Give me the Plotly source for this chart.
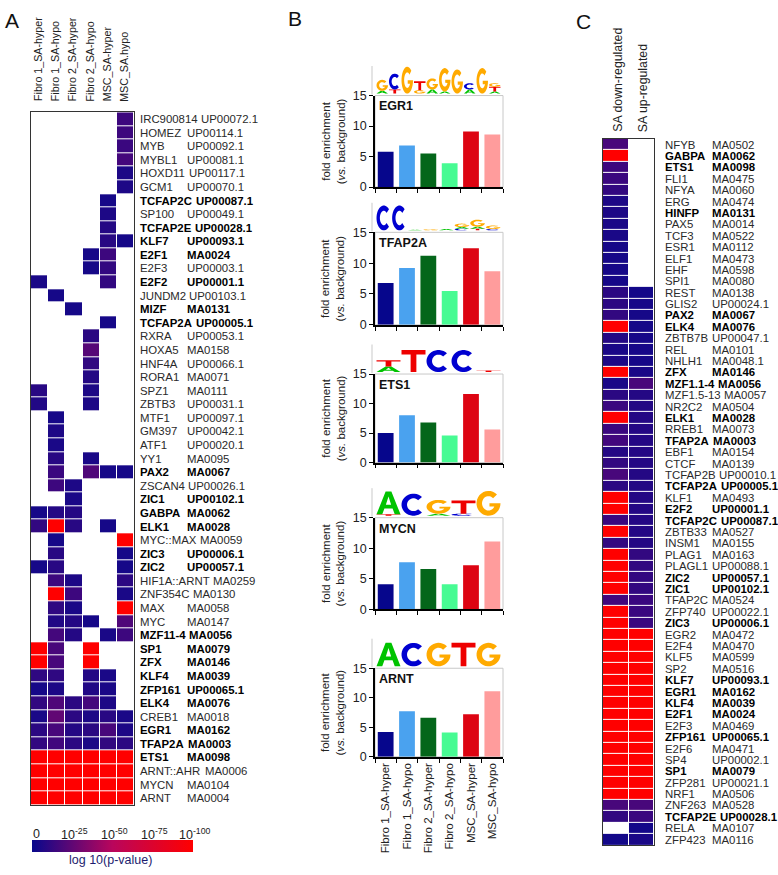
import numpy as np
import plotly.graph_objects as go

W, H = 778, 875
FONT = "Liberation Sans, Arial, sans-serif"


def fx(x):
    return x / W


def fy(y):
    return 1 - y / H


N = None

# ---------------- Panel A data ----------------
a_columns = ["Fibro 1_SA-hyper", "Fibro 1_SA-hypo", "Fibro 2_SA-hyper",
             "Fibro 2_SA-hypo", "MSC_SA-hyper", "MSC_SA.hypo"]
a_names = ["IRC900814", "HOMEZ", "MYB", "MYBL1", "HOXD11", "GCM1", "TCFAP2C", "SP100",
           "TCFAP2E", "KLF7", "E2F1", "E2F3", "E2F2", "JUNDM2", "MIZF", "TCFAP2A",
           "RXRA", "HOXA5", "HNF4A", "RORA1", "SPZ1", "ZBTB3", "MTF1", "GM397", "ATF1",
           "YY1", "PAX2", "ZSCAN4", "ZIC1", "GABPA", "ELK1", "MYC::MAX", "ZIC3", "ZIC2",
           "HIF1A::ARNT", "ZNF354C", "MAX", "MYC", "MZF11-4", "SP1", "ZFX", "KLF4",
           "ZFP161", "ELK4", "CREB1", "EGR1", "TFAP2A", "ETS1", "ARNT::AHR", "MYCN", "ARNT"]
a_ids = ["UP00072.1", "UP00114.1", "UP00092.1", "UP00081.1", "UP00117.1", "UP00070.1",
         "UP00087.1", "UP00049.1", "UP00028.1", "UP00093.1", "MA0024", "UP00003.1",
         "UP00001.1", "UP00103.1", "MA0131", "UP00005.1", "UP00053.1", "MA0158",
         "UP00066.1", "MA0071", "MA0111", "UP00031.1", "UP00097.1", "UP00042.1",
         "UP00020.1", "MA0095", "MA0067", "UP00026.1", "UP00102.1", "MA0062", "MA0028",
         "MA0059", "UP00006.1", "UP00057.1", "MA0259", "MA0130", "MA0058", "MA0147",
         "MA0056", "MA0079", "MA0146", "MA0039", "UP00065.1", "MA0076", "MA0018",
         "MA0162", "MA0003", "MA0098", "MA0006", "MA0104", "MA0004"]
a_bold = [0, 0, 0, 0, 0, 0, 1, 0, 1, 1, 1, 0, 1, 0, 1, 1, 0, 0, 0, 0, 0, 0, 0, 0, 0, 0,
          1, 0, 1, 1, 1, 0, 1, 1, 0, 0, 0, 0, 1, 1, 1, 1, 1, 1, 0, 1, 1, 1, 0, 0, 0]
# -log10(p) per column (None = not enriched)
a_fibro1_hyper = [N, N, N, N, N, N, N, N, N, N, N, N, 5, N, N, N, N, N, N, N, 9, 7, N, N, N,
                  N, N, N, N, 4, 12, N, N, 4, N, N, N, N, N, 100, 100, 11, 4, 12, 5, 10, 12,
                  100, 100, 100, 100]
a_fibro1_hypo = [N, N, N, N, N, N, N, N, N, N, N, N, N, 4, N, N, N, N, N, N, N, N, 4, 6, 5,
                 9, 14, 15, N, 8, 100, 4, 9, 9, 15, 100, 11, 7, 17, 18, 18, 11, 6, 20, 25,
                 18, 16, 100, 100, 100, 100]
a_fibro2_hyper = [N, N, N, N, N, N, N, N, N, N, N, N, N, N, 4, N, N, N, N, N, N, N, N, N, N,
                  N, N, 6, 5, 8, 9, N, N, N, 6, 15, 5, 8, 8, N, N, N, N, 10, 10, 8, 10,
                  100, 100, 100, 100]
a_fibro2_hypo = [N, N, N, N, N, N, N, N, N, N, 4, 4, N, N, N, N, 10, 22, 12, 8, 6, 6, N, N, N,
                 5, 20, N, N, N, N, N, N, N, N, N, N, 4, N, 100, 100, 8, 7, 17, 6, 10, 6,
                 100, 100, 100, 100]
a_msc_hyper = [N, N, N, N, N, N, 4, 6, 8, 9, 15, 12, 12, N, N, 4, N, N, N, N, N, N, N, N, N,
               N, 4, N, N, N, 4, N, N, N, N, N, N, N, 5, N, N, 5, 5, 6, 9, 18, 12,
               100, 100, 100, 100]
a_msc_hypo = [15, 15, 14, 17, 6, 6, N, N, N, 4, N, N, N, N, N, N, N, N, N, N, N, N, N, N, N,
              N, 4, N, N, N, N, 100, 4, 4, 10, 5, 100, 20, 15, N, N, N, N, N, 5, 6, 10,
              100, 100, 100, 100]
cbar_tickvals = [0, 25, 50, 75, 100]
cbar_ticktext = ["0", "10<sup>-25</sup>", "10<sup>-50</sup>", "10<sup>-75</sup>", "10<sup>-100</sup>"]

# ---------------- Panel B data ----------------
b_categories = ["Fibro 1_SA-hyper", "Fibro 1_SA-hypo", "Fibro 2_SA-hyper",
                "Fibro 2_SA-hypo", "MSC_SA-hyper", "MSC_SA-hypo"]
b_colors = ["#06068c", "#4aa2ef", "#04661a", "#47fb93", "#dd0412", "#ff9c9c"]
b_motifs = ["EGR1", "TFAP2A", "ETS1", "MYCN", "ARNT"]
b_egr1 = [5.8, 6.8, 5.5, 3.9, 9.1, 8.6]
b_tfap2a = [6.8, 9.2, 11.2, 5.5, 12.4, 8.7]
b_ets1 = [5.0, 8.0, 6.8, 4.6, 11.6, 5.6]
b_mycn = [4.1, 7.7, 6.6, 4.1, 7.2, 11.1]
b_arnt = [4.2, 7.7, 6.6, 4.1, 7.2, 11.1]
# sequence logos: per position, stacked (letter, bits) from bottom to top
logo_egr1 = [[("A", 0.2), ("G", 0.8)], [("T", 0.3), ("C", 1.15)], [("G", 1.95)],
             [("G", 0.25), ("T", 0.65)], [("A", 0.3), ("G", 0.8)], [("A", 0.15), ("G", 1.7)],
             [("G", 1.75)], [("A", 0.3), ("C", 0.45)], [("G", 1.85)],
             [("A", 0.15), ("T", 0.35), ("G", 0.25)]]
logo_tfap2a = [[("C", 1.8)], [("C", 1.8)], [("A", 0.05)], [("G", 0.08)], [("A", 0.1)],
               [("C", 0.12), ("A", 0.12), ("G", 0.25)], [("T", 0.12), ("A", 0.15), ("G", 0.5)],
               [("C", 0.1), ("G", 0.25)]]
logo_ets1 = [[("A", 0.4), ("T", 0.45)], [("T", 1.6)], [("C", 1.6)], [("C", 1.6)], [("T", 0.12)]]
logo_mycn = [[("T", 0.1), ("A", 1.65)], [("C", 1.6)], [("A", 0.15), ("G", 1.0)],
             [("C", 0.15), ("T", 0.95)], [("G", 1.8)]]
logo_arnt = [[("A", 1.7)], [("C", 1.7)], [("G", 1.7)], [("T", 1.7)], [("G", 1.7)]]

# ---------------- Panel C data ----------------
c_columns = ["SA down-regulated", "SA up-regulated"]
c_names = ["NFYB", "GABPA", "ETS1", "FLI1", "NFYA", "ERG", "HINFP", "PAX5", "TCF3", "ESR1",
           "ELF1", "EHF", "SPI1", "REST", "GLIS2", "PAX2", "ELK4", "ZBTB7B", "REL", "NHLH1",
           "ZFX", "MZF1.1-4", "MZF1.5-13", "NR2C2", "ELK1", "RREB1", "TFAP2A", "EBF1", "CTCF",
           "TCFAP2B", "TCFAP2A", "KLF1", "E2F2", "TCFAP2C", "ZBTB33", "INSM1", "PLAG1",
           "PLAGL1", "ZIC2", "ZIC1", "TFAP2C", "ZFP740", "ZIC3", "EGR2", "E2F4", "KLF5", "SP2",
           "KLF7", "EGR1", "KLF4", "E2F1", "E2F3", "ZFP161", "E2F6", "SP4", "SP1", "ZFP281",
           "NRF1", "ZNF263", "TCFAP2E", "RELA", "ZFP423"]
c_ids = ["MA0502", "MA0062", "MA0098", "MA0475", "MA0060", "MA0474", "MA0131", "MA0014",
         "MA0522", "MA0112", "MA0473", "MA0598", "MA0080", "MA0138", "UP00024.1", "MA0067",
         "MA0076", "UP00047.1", "MA0101", "MA0048.1", "MA0146", "MA0056", "MA0057", "MA0504",
         "MA0028", "MA0073", "MA0003", "MA0154", "MA0139", "UP00010.1", "UP00005.1", "MA0493",
         "UP00001.1", "UP00087.1", "MA0527", "MA0155", "MA0163", "UP00088.1", "UP00057.1",
         "UP00102.1", "MA0524", "UP00022.1", "UP00006.1", "MA0472", "MA0470", "MA0599",
         "MA0516", "UP00093.1", "MA0162", "MA0039", "MA0024", "MA0469", "UP00065.1",
         "MA0471", "UP00002.1", "MA0079", "UP00021.1", "MA0506", "MA0528", "UP00028.1",
         "MA0107", "MA0116"]
c_bold = [0, 1, 1, 0, 0, 0, 1, 0, 0, 0, 0, 0, 0, 0, 0, 1, 1, 0, 0, 0, 1, 1, 0, 0, 1, 0, 1, 0,
          0, 0, 1, 0, 1, 1, 0, 0, 0, 0, 1, 1, 0, 0, 1, 0, 0, 0, 0, 1, 1, 1, 1, 0, 1, 0, 0, 1,
          0, 0, 0, 1, 0, 0]
c_down = [18, 100, 15, 14, 12, 6, 6, 5, 5, 4, 4, 4, 4, 10, 10, 12, 100, 8, 5, 6, 100, 5, 10,
          14, 100, 14, 16, 8, 12, 18, 10, 100, 100, 14, 100, 12, 100, 100, 100, 100, 16, 100,
          100, 100, 100, 100, 100, 100, 100, 100, 100, 100, 100, 100, 100, 100, 100, 100,
          18, 12, N, 3]
c_up = [N, N, N, N, N, N, N, N, N, N, N, N, N, 3, 4, 4, 4, 4, 4, 4, 5, 18, 8, 8, 8, 8, 8, 8,
        8, 8, 8, 8, 8, 8, 8, 8, 12, 12, 12, 12, 14, 14, 14, 100, 100, 100, 100, 100, 100,
        100, 100, 100, 100, 100, 100, 100, 100, 100, 18, 14, 3, 5]

# ---------------- helpers ----------------
REG = dict(A=667, B=667, C=722, D=722, E=667, F=611, G=778, H=722, I=278, J=500, K=667,
           L=556, M=833, N=722, O=778, P=667, Q=778, R=722, S=667, T=611, U=722, V=667,
           W=944, X=667, Y=667, Z=611)
BLD = dict(REG, A=722, B=722, J=556, K=722, L=611)
for d in (REG, BLD):
    for ch in "0123456789":
        d[ch] = 556
    d.update({".": 278, ":": 278, "-": 333, " ": 278})


def text_w(s, size, bold):
    t = BLD if bold else REG
    return sum(t.get(ch, 556) for ch in s) / 1000 * size


CS = [[0, "rgb(8,8,140)"], [0.5, "rgb(185,6,92)"], [1, "rgb(255,0,0)"]]
LBL = 11.4

annotations = []
shapes = []


def ann(x, y, text, size=LBL, color="#222", xa="left", ya="middle", angle=0):
    annotations.append(dict(x=fx(x), y=fy(y), xref="paper", yref="paper", text=text,
                            showarrow=False, xanchor=xa, yanchor=ya, textangle=angle,
                            font=dict(family=FONT, size=size, color=color)))


def row_labels(names, ids, bold, top, bottom, x0, align):
    n = len(names)
    rh = (bottom - top) / n
    for i in range(n):
        yc = top + (i + 0.5) * rh
        b = bool(bold[i])
        col = "#000" if b else "#2a2a2a"
        nm = f"<b>{names[i]}</b>" if b else names[i]
        idt = f"<b>{ids[i]}</b>" if b else ids[i]
        ann(x0, yc, nm, color=col)
        xid = max(align, x0 + text_w(names[i], LBL, b) + text_w(" ", LBL, b))
        ann(xid, yc, idt, color=col)


fig = go.Figure()

# ---------------- Panel A heatmap ----------------
A_L, A_R, A_T, A_B = 31, 134, 107, 811
zA = [list(r) for r in zip(a_fibro1_hyper, a_fibro1_hypo, a_fibro2_hyper, a_fibro2_hypo,
                           a_msc_hyper, a_msc_hypo)]
zA = [[np.nan if v is None else v for v in r] for r in zA]
CB_L, CB_R, CB_Y = 32, 193, 853
fig.add_trace(go.Heatmap(
    z=zA, x=list(range(6)), y=list(range(len(a_names))), colorscale=CS, zmin=0, zmax=100,
    xgap=1, ygap=1, hoverinfo="skip", xaxis="x", yaxis="y",
    colorbar=dict(orientation="h", x=fx((CB_L + CB_R) / 2), xanchor="center",
                  y=fy(CB_Y), yanchor="middle", len=CB_R - CB_L, lenmode="pixels",
                  thickness=12, thicknessmode="pixels", outlinewidth=0,
                  showticklabels=False, ticks="", xpad=0, ypad=0)))

heat_axis = dict(showticklabels=False, ticks="", showgrid=False, zeroline=False,
                 showline=True, mirror=True, linecolor="#333", linewidth=1)
fig.update_layout(
    xaxis=dict(heat_axis, domain=[fx(A_L), fx(A_R)], range=[-0.5, 5.5], anchor="y"),
    yaxis=dict(heat_axis, domain=[fy(A_B), fy(A_T)], range=[len(a_names) - 0.5, -0.5],
               anchor="x"),
)
colw = (A_R - A_L) / 6
for i, c in enumerate(a_columns):
    ann(A_L + (i + 0.5) * colw - 1, 98, c, size=10.7, xa="center", ya="bottom", angle=-90)
row_labels(a_names, a_ids, a_bold, A_T, A_B, 138, 185)

for v, t in zip(cbar_tickvals, cbar_ticktext):
    xx = CB_L + v / 100 * (CB_R - CB_L)
    if v == 0:
        ann(xx - 1, 840, t, size=12.5, xa="left")
    else:
        ann(xx + 2, 840, t, size=12.5, xa="center")
ann((CB_L + CB_R) / 2 - 2, 867, "log 10(p-value)", size=12.5, color="#1c1c6e", xa="center")

# ---------------- Panel C heatmap ----------------
C_L, C_R, C_T, C_B = 603, 654, 134, 852
zC = [[np.nan if v is None else v for v in r] for r in zip(c_down, c_up)]
fig.add_trace(go.Heatmap(
    z=zC, x=[0, 1], y=list(range(len(c_names))), colorscale=CS, zmin=0, zmax=100,
    xgap=1, ygap=1, hoverinfo="skip", showscale=False, xaxis="x2", yaxis="y2"))
fig.update_layout(
    xaxis2=dict(heat_axis, domain=[fx(C_L), fx(C_R)], range=[-0.5, 1.5], anchor="y2"),
    yaxis2=dict(heat_axis, domain=[fy(C_B), fy(C_T)], range=[len(c_names) - 0.5, -0.5],
                anchor="x2"),
)
ccw = (C_R - C_L) / 2
for i, c in enumerate(c_columns):
    ann(C_L + (i + 0.5) * ccw + 2, 129, c, size=12.3, xa="center", ya="bottom", angle=-90)
row_labels(c_names, c_ids, c_bold, C_T, C_B, 663, 710)

# ---------------- Panel B bars ----------------
B_L, B_R = 375, 503
b_tops = [90, 229, 373, 519, 672]
b_bots = [183, 323, 463, 612, 762]
b_values = [b_egr1, b_tfap2a, b_ets1, b_mycn, b_arnt]
b_logos = [logo_egr1, logo_tfap2a, logo_ets1, logo_mycn, logo_arnt]
LOGO_COL = {"A": "#00c300", "C": "#0000d0", "G": "#ffaa00", "T": "#ee0000"}


def ell(a0, a1, rx, ry, n=28):
    t = np.radians(np.linspace(a0, a1, n))
    return list(zip(0.5 + rx * np.cos(t), 0.5 + ry * np.sin(t)))


GLYPHS = {
    "T": [[(0, 1), (1, 1), (1, 0.8), (0.62, 0.8), (0.62, 0), (0.38, 0), (0.38, 0.8), (0, 0.8)]],
    "A": [[(0, 0), (0.38, 1), (0.62, 1), (1, 0), (0.76, 0), (0.67, 0.26), (0.33, 0.26),
           (0.24, 0)], [(0.39, 0.42), (0.61, 0.42), (0.5, 0.78)]],
    "C": [ell(45, 315, 0.5, 0.5) + ell(315, 45, 0.27, 0.29)],
    "G": [ell(45, 360, 0.5, 0.5) + [(0.54, 0.5), (0.54, 0.37)] + ell(333, 45, 0.27, 0.29)],
}


def glyph_path(letter, x0, x1, ybot, ytop):
    parts = []
    for poly in GLYPHS[letter]:
        pts = [f"{fx(x0 + u * (x1 - x0)):.5f},{fy(ybot - v * (ybot - ytop)):.5f}" for u, v in poly]
        parts.append("M" + " L".join(pts) + " Z")
    return " ".join(parts)


BIT_PX = 14
for k in range(5):
    n = 3 + k
    xa, ya = f"x{n}", f"y{n}"
    top, bot = b_tops[k], b_bots[k]
    fig.add_trace(go.Bar(x=b_categories, y=b_values[k], marker_color=b_colors,
                         marker_line=dict(width=0), width=0.74, xaxis=xa, yaxis=ya,
                         showlegend=False, hoverinfo="skip"))
    fig.update_layout(**{
        f"xaxis{n}": dict(domain=[fx(B_L), fx(B_R)], anchor=ya, type="category",
                          range=[-0.5, 5.5], showline=True, linecolor="black", linewidth=1.5,
                          ticks="outside", tickson="boundaries", ticklen=4, tickcolor="black",
                          showticklabels=(k == 4), tickangle=-90, showgrid=False,
                          tickfont=dict(family=FONT, size=11.5, color="#222")),
        f"yaxis{n}": dict(domain=[fy(bot), fy(top)], anchor=xa, range=[0, 15],
                          tickvals=[0, 5, 10, 15], ticks="outside", ticklen=4,
                          tickcolor="black", showline=True, linecolor="black", linewidth=1.5,
                          showgrid=False, zeroline=False,
                          tickfont=dict(family=FONT, size=12.5, color="#222")),
    })
    shapes.append(dict(type="rect", xref=f"{xa} domain", yref=f"{ya} domain", x0=0, x1=1,
                       y0=0, y1=1, line=dict(color="#c8c8c8", width=1), layer="below"))
    ann(B_L + 2, top + 11, f"<b>{b_motifs[k]}</b>", size=12.5, color="#111")
    ann(333, (top + bot) / 2, "fold enrichment<br>(<i>vs.</i> background)", size=11.5,
        xa="center", angle=-90)
    # logo
    logo = b_logos[k]
    lx0, lx1 = 376, 501
    cw = (lx1 - lx0) / len(logo)
    base = top - 2
    for j, stack in enumerate(logo):
        y = base
        for letter, bits in stack:
            h = bits * BIT_PX
            shapes.append(dict(type="path", xref="paper", yref="paper",
                               path=glyph_path(letter, lx0 + j * cw + 0.5, lx0 + (j + 1) * cw - 0.5,
                                               y, y - h),
                               fillcolor=LOGO_COL[letter], line=dict(width=0),
                               fillrule="evenodd", layer="above"))
            y -= h
    shapes.append(dict(type="line", xref="paper", yref="paper", x0=fx(372), x1=fx(372),
                       y0=fy(top - 1), y1=fy(top - 30), line=dict(color="#bbbbbb", width=0.8)))

# panel letters
ann(3, 14, "A", size=21, color="#111")
ann(286, 12, "B", size=21, color="#111")
ann(574, 15, "C", size=21, color="#111")

fig.update_layout(width=W, height=H, margin=dict(l=0, r=0, t=0, b=0),
                  paper_bgcolor="white", plot_bgcolor="white", showlegend=False,
                  annotations=annotations, shapes=shapes, font=dict(family=FONT))
fig.write_html("out.html", config={"displayModeBar": False},
               post_script="document.body.style.margin='0';document.body.style.padding='0';")
